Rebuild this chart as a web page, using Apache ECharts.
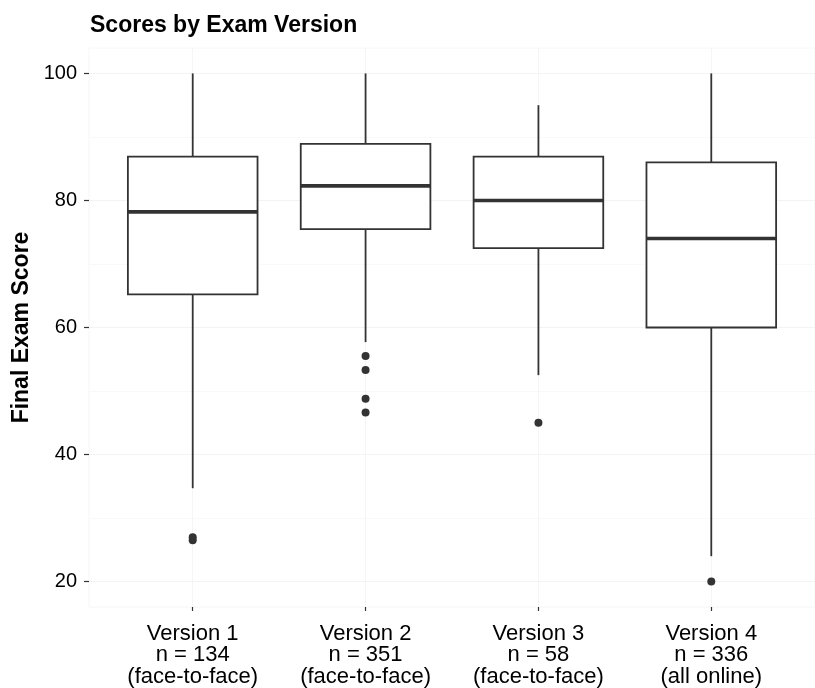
<!DOCTYPE html>
<html>
<head>
<meta charset="utf-8">
<script src="https://cdn.jsdelivr.net/npm/echarts@6/dist/echarts.min.js"></script>
<style>
  html, body { margin: 0; padding: 0; background: #fff; }
  #chart { width: 815px; height: 688px; }
</style>
</head>
<body>
<div id="chart"></div>
<script>
// values
var versions = ['Version 1', 'Version 2', 'Version 3', 'Version 4'];
var sampleSizes = [134, 351, 58, 336];
var delivery = ['face-to-face', 'face-to-face', 'face-to-face', 'all online'];
var whiskerLow = [34.7, 57.7, 52.5, 24];
var q1 = [65.2, 75.5, 72.5, 60];
var medians = [78.2, 82.3, 80, 74];
var q3 = [86.9, 88.9, 86.9, 86];
var whiskerHigh = [100, 100, 95, 100];
var outlierVersion = [1, 1, 2, 2, 2, 2, 3, 4];
var outlierScore = [26.5, 27, 55.5, 53.3, 48.8, 46.6, 45, 20];
var yTicks = [20, 40, 60, 80, 100];
var yMinorTicks = [30, 50, 70, 90];

var FONT = '"Liberation Sans", Arial, sans-serif';
var INK = '#333333';
var BOX_WIDTH = 0.75;

var boxData = versions.map(function (v, i) {
    return [i + 1, whiskerLow[i], q1[i], medians[i], q3[i], whiskerHigh[i]];
});
var outlierData = outlierVersion.map(function (v, i) { return [v, outlierScore[i]]; });

// ggplot-like box: no whisker caps, thicker median
function renderBox(params, api) {
    var x = api.value(0);
    var lo = api.coord([x, api.value(1)]);
    var b = api.coord([x, api.value(2)]);
    var m = api.coord([x, api.value(3)]);
    var t = api.coord([x, api.value(4)]);
    var hi = api.coord([x, api.value(5)]);
    var half = api.size([BOX_WIDTH, 0])[0] / 2;
    var thin = { stroke: INK, lineWidth: 1.8 };
    return {
        type: 'group',
        children: [
            { type: 'line', shape: { x1: lo[0], y1: lo[1], x2: b[0], y2: b[1] }, style: thin },
            { type: 'line', shape: { x1: t[0], y1: t[1], x2: hi[0], y2: hi[1] }, style: thin },
            { type: 'rect', shape: { x: m[0] - half, y: t[1], width: half * 2, height: b[1] - t[1] },
              style: { fill: '#fff', stroke: INK, lineWidth: 1.8 } },
            { type: 'line', shape: { x1: m[0] - half, y1: m[1], x2: m[0] + half, y2: m[1] },
              style: { stroke: INK, lineWidth: 3.6 } }
        ]
    };
}

var chart = echarts.init(document.getElementById('chart'));
chart.setOption({
    backgroundColor: '#fff',
    animation: false,
    title: {
        text: 'Scores by Exam Version',
        left: 90,
        top: 14,
        padding: 0,
        textStyle: { fontFamily: FONT, fontSize: 23, fontWeight: 'bold', color: '#000' }
    },
    grid: {
        left: 89, top: 48, width: 731, height: 559,
        show: true, borderColor: '#f6f6f6', borderWidth: 1, backgroundColor: '#fff'
    },
    xAxis: {
        type: 'value', min: 0.4, max: 4.6,
        axisLine: { show: false },
        axisTick: { show: true, customValues: [1, 2, 3, 4], length: 4, lineStyle: { color: INK, width: 1.2 } },
        axisLabel: {
            customValues: [1, 2, 3, 4], margin: 16,
            fontFamily: FONT, fontSize: 22, lineHeight: 21.5, color: '#000', align: 'center',
            formatter: function (v) {
                var i = Math.round(v) - 1;
                return versions[i] + '\nn = ' + sampleSizes[i] + '\n(' + delivery[i] + ')';
            }
        },
        splitLine: { show: true, lineStyle: { color: '#f5f5f5', width: 1 } }
    },
    yAxis: [{
        type: 'value', min: 16, max: 104,
        name: 'Final Exam Score', nameLocation: 'middle', nameGap: 51,
        nameTextStyle: { fontFamily: FONT, fontSize: 23, fontWeight: 'bold', color: '#000' },
        axisLine: { show: false },
        axisTick: { show: true, customValues: yTicks, length: 5, lineStyle: { color: INK, width: 1.2 } },
        axisLabel: { customValues: yTicks, margin: 12, fontFamily: FONT, fontSize: 20, color: '#000' },
        splitLine: { show: true, lineStyle: { color: '#f3f3f3', width: 1 } }
    }, {
        type: 'value', min: 16, max: 104, position: 'left',
        axisLine: { show: false },
        axisTick: { show: false, customValues: yMinorTicks },
        axisLabel: { show: false, customValues: yMinorTicks },
        splitLine: { show: true, lineStyle: { color: '#f9f9f9', width: 1 } }
    }],
    series: [{
        type: 'custom',
        name: 'scores',
        renderItem: renderBox,
        encode: { x: 0, y: [1, 2, 3, 4, 5] },
        data: boxData,
        z: 2
    }, {
        type: 'scatter',
        name: 'outliers',
        data: outlierData,
        symbolSize: 8,
        itemStyle: { color: INK, opacity: 1 },
        z: 3
    }]
});
</script>
</body>
</html>
